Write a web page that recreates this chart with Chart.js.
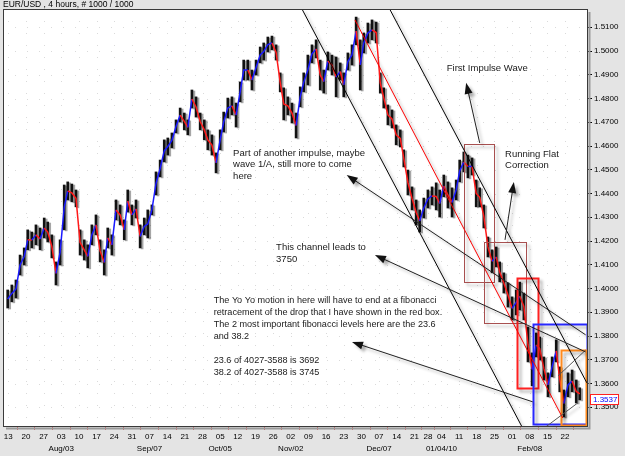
<!DOCTYPE html>
<html><head><meta charset="utf-8">
<script src="https://cdn.jsdelivr.net/npm/chart.js@4.4.1/dist/chart.umd.min.js"></script>
<style>html,body{margin:0;padding:0;background:#e4e4e4;overflow:hidden}#wrap{width:625px;height:456px;position:relative}</style>
</head><body><div id="wrap"><canvas id="c" width="625" height="456"></canvas></div>
<script>
// ---------------- DATA ----------------
const chartTitle = "EUR/USD , 4 hours, # 1000 / 1000";
const lastPrice = 1.3537;

// position of each sampled bar group (index of 4-hour bar, 0 = left edge)
const barIndex = [8,15,22,29,36,42,49,56,63,70,76,83,90,97,104,110,117,124,131,138,144,151,158,165,172,178,185,192,199,206,212,219,226,233,240,246,253,260,267,274,280,287,294,301,308,314,321,328,335,342,348,355,362,369,375,382,389,396,403,409,416,423,430,437,443,450,457,464,471,477,484,491,498,505,511,518,525,532,539,545,552,559,566,573,579,586,593,600,607,613,620,627,634,641,647,654,661,668,675,681,688,695,702,708,715,722,729,736,742,749,756,763,770,776,783,790,797,804,810,817,824,831,838,844,851,858,865,872,878,885,892,899,906,912,919,926,933,940,946,953,960,967,974,980];

const highs = [1.3994,1.4015,1.4036,1.4141,1.4171,1.4247,1.4238,1.4268,1.4255,1.4297,1.4280,1.4226,1.4112,1.4205,1.4436,1.4449,1.4440,1.4415,1.4247,1.4205,1.4184,1.4268,1.4310,1.4205,1.4163,1.4255,1.4226,1.4373,1.4352,1.4289,1.4415,1.4352,1.4373,1.4268,1.4297,1.4331,1.4352,1.4491,1.4541,1.4626,1.4634,1.4655,1.4710,1.4760,1.4739,1.4710,1.4836,1.4807,1.4739,1.4710,1.4668,1.4647,1.4571,1.4668,1.4743,1.4802,1.4807,1.4781,1.4870,1.4962,1.4962,1.4920,1.4962,1.5017,1.5034,1.5059,1.5063,1.5026,1.4908,1.4845,1.4807,1.4781,1.4739,1.4849,1.4908,1.4983,1.5026,1.5047,1.4962,1.4920,1.4996,1.4983,1.4975,1.4950,1.4908,1.4992,1.5026,1.5143,1.5047,1.5076,1.5118,1.5131,1.5122,1.4908,1.4845,1.4773,1.4752,1.4689,1.4668,1.4584,1.4499,1.4428,1.4373,1.4331,1.4381,1.4415,1.4428,1.4445,1.4415,1.4478,1.4449,1.4424,1.4457,1.4541,1.4575,1.4562,1.4550,1.4457,1.4424,1.4352,1.4217,1.4163,1.4175,1.4112,1.4066,1.4024,1.3965,1.3994,1.4027,1.3981,1.3838,1.3729,1.3813,1.3796,1.3712,1.3645,1.3712,1.3784,1.3670,1.3573,1.3645,1.3657,1.3615,1.3582];

const lows = [1.3918,1.3944,1.3960,1.4057,1.4099,1.4163,1.4171,1.4184,1.4163,1.4213,1.4196,1.4129,1.4015,1.4099,1.4247,1.4373,1.4365,1.4344,1.4141,1.4120,1.4087,1.4184,1.4226,1.4112,1.4057,1.4171,1.4141,1.4289,1.4268,1.4205,1.4322,1.4268,1.4297,1.4171,1.4226,1.4213,1.4310,1.4394,1.4470,1.4533,1.4562,1.4592,1.4655,1.4701,1.4668,1.4647,1.4760,1.4722,1.4668,1.4626,1.4584,1.4562,1.4487,1.4584,1.4659,1.4718,1.4731,1.4680,1.4786,1.4878,1.4878,1.4836,1.4899,1.4950,1.4962,1.4996,1.5005,1.4962,1.4828,1.4710,1.4731,1.4697,1.4634,1.4765,1.4828,1.4857,1.4950,1.4971,1.4836,1.4823,1.4920,1.4899,1.4807,1.4878,1.4807,1.4920,1.4941,1.5026,1.4836,1.4992,1.5034,1.5047,1.5034,1.4823,1.4760,1.4689,1.4676,1.4605,1.4596,1.4512,1.4394,1.4331,1.4268,1.4238,1.4297,1.4339,1.4352,1.4331,1.4301,1.4386,1.4339,1.4301,1.4373,1.4449,1.4491,1.4466,1.4478,1.4344,1.4344,1.4255,1.4133,1.4066,1.4091,1.4028,1.3981,1.3922,1.3868,1.3889,1.3910,1.3868,1.3691,1.3590,1.3712,1.3699,1.3615,1.3544,1.3628,1.3691,1.3565,1.3459,1.3544,1.3565,1.3518,1.3531];

const weekTickBars = [9,39,69,99,129,159,189,219,249,279,309,339,369,399,429,459,489,519,549,579,609,639,669,699,722,745,775,805,835,865,895,925,955];
const weekTickLabels = ['13','20','27','03','10','17','24','31','07','14','21','28','05','12','19','26','02','09','16','23','30','07','14','21','28','04','11','18','25','01','08','15','22'];
const monthTickBars = [99,249,369,489,639,745,895];
const monthLabels = ['Aug/03','Sep/07','Oct/05','Nov/02','Dec/07','01/04/10','Feb/08'];
const priceTicks = [1.35,1.36,1.37,1.38,1.39,1.40,1.41,1.42,1.43,1.44,1.45,1.46,1.47,1.48,1.49,1.50,1.51];

// ---------------- annotations (in bar / price units) ----------------
const trendLines = [
  {from:[657,1.5177], to:[992,1.3603], color:'#000'},
  {from:[508,1.5177], to:[882,1.3417], color:'#000'},
  {from:[598,1.5131], to:[951,1.3455], color:'#ff0000'},
  {from:[922,1.3417], to:[977,1.3519], color:'#555'},
  {from:[943,1.3632], to:[990,1.3741], color:'#555'}
];
const arrows = [
  {from:[810,1.4613], to:[787,1.4866]},
  {from:[853,1.4205], to:[868,1.4449]},
  {from:[990,1.3805], to:[584,1.4478]},
  {from:[990,1.3733], to:[632,1.4141]},
  {from:[900,1.3523], to:[593,1.3775]}
];
const boxes = [
  {x1:783, x2:834, p1:1.4609, p2:1.4028, color:'#a85050', w:1},
  {x1:817, x2:889, p1:1.4196, p2:1.3856, color:'#a85050', w:1},
  {x1:873, x2:909, p1:1.4045, p2:1.3582, color:'#ff2020', w:2},
  {x1:900, x2:992, p1:1.3851, p2:1.3430, color:'#2828ff', w:2},
  {x1:948, x2:990, p1:1.3741, p2:1.3426, color:'#ff8a1e', w:2}
];
const notes = [
  {at:[754,1.4925], size:9.5, lines:['First Impulse Wave']},
  {at:[853,1.4567], size:9.5, lines:['Running Flat','Correction']},
  {at:[391,1.4571], size:9.5, lines:['Part of another impulse, maybe','wave 1/A, still more to come','here']},
  {at:[464,1.4175], size:9.5, lines:['This channel leads to','3750']},
  {at:[358,1.3948], size:9.1, lines:['The Yo Yo motion in here will have to end at a fibonacci','retracement of the drop that I have shown in the red box.','The 2 most important fibonacci levels here are the 23.6','and 38.2','','23.6 of 4027-3588 is 3692','38.2 of 4027-3588 is 3745']}
];

// ---------------- drawing ----------------
const FONT = "'Liberation Sans', Arial, sans-serif";
const mids = highs.map((h,i)=>(h+lows[i])/2);

function P(chart, pt){ return [chart.scales.x.getPixelForValue(pt[0]), chart.scales.y.getPixelForValue(pt[1])]; }
function shadowOn(ctx){ ctx.shadowColor='rgba(0,0,0,0.30)'; ctx.shadowBlur=3; ctx.shadowOffsetX=3; ctx.shadowOffsetY=3; }

const deco = {
  id:'deco',
  beforeDraw(chart){
    const {ctx, chartArea:a} = chart;
    ctx.save();
    ctx.fillStyle='#e4e4e4'; ctx.fillRect(0,0,chart.width,chart.height);
    ctx.fillStyle='#ffffff'; ctx.fillRect(a.left,a.top,a.right-a.left,a.bottom-a.top);
    ctx.strokeStyle='#dadada'; ctx.lineWidth=1; ctx.setLineDash([1,11]);
    priceTicks.forEach(v=>{const y=Math.round(chart.scales.y.getPixelForValue(v))+0.5;ctx.beginPath();ctx.moveTo(a.left,y);ctx.lineTo(a.right,y);ctx.stroke();});
    weekTickBars.forEach(v=>{const x=Math.round(chart.scales.x.getPixelForValue(v))+0.5;ctx.beginPath();ctx.moveTo(x,a.top);ctx.lineTo(x,a.bottom);ctx.stroke();});
    ctx.setLineDash([]);
    ctx.fillStyle='#000'; ctx.font='8.5px '+FONT; ctx.textBaseline='middle'; ctx.textAlign='left';
    ctx.fillText(chartTitle, 3, 4.5);
    ctx.restore();
  },
  beforeDatasetDraw(chart,args){
    if(args.index===1){ const c=chart.ctx; c.save(); c.shadowColor='rgba(0,0,0,0.35)'; c.shadowOffsetX=2; c.shadowOffsetY=1; c.shadowBlur=0; }
  },
  afterDatasetDraw(chart,args){ if(args.index===1){ chart.ctx.restore(); } },
  afterDatasetsDraw(chart){
    const {ctx, chartArea:a} = chart;
    ctx.save();
    ctx.beginPath(); ctx.rect(a.left,a.top,a.right-a.left,a.bottom-a.top); ctx.clip();
    boxes.forEach(b=>{
      const [x1,y1]=P(chart,[b.x1,b.p1]); const [x2,y2]=P(chart,[b.x2,b.p2]);
      ctx.save(); shadowOn(ctx); ctx.strokeStyle=b.color; ctx.lineWidth=b.w;
      ctx.strokeRect(Math.round(x1)+0.5,Math.round(y1)+0.5,Math.round(x2-x1),Math.round(y2-y1)); ctx.restore();
    });
    trendLines.forEach(l=>{
      const [x1,y1]=P(chart,l.from); const [x2,y2]=P(chart,l.to);
      ctx.save(); shadowOn(ctx); ctx.strokeStyle=l.color; ctx.lineWidth=1;
      ctx.beginPath(); ctx.moveTo(x1,y1); ctx.lineTo(x2,y2); ctx.stroke(); ctx.restore();
    });
    arrows.forEach(ar=>{
      const [x1,y1]=P(chart,ar.from); const [x2,y2]=P(chart,ar.to);
      const ang=Math.atan2(y2-y1,x2-x1), L=11, W=4;
      ctx.save(); shadowOn(ctx); ctx.strokeStyle='#222'; ctx.fillStyle='#111'; ctx.lineWidth=1;
      ctx.beginPath(); ctx.moveTo(x1,y1); ctx.lineTo(x2-Math.cos(ang)*L*0.8,y2-Math.sin(ang)*L*0.8); ctx.stroke();
      ctx.beginPath(); ctx.moveTo(x2,y2);
      ctx.lineTo(x2-Math.cos(ang)*L-Math.sin(ang)*W, y2-Math.sin(ang)*L+Math.cos(ang)*W);
      ctx.lineTo(x2-Math.cos(ang)*L+Math.sin(ang)*W, y2-Math.sin(ang)*L-Math.cos(ang)*W);
      ctx.closePath(); ctx.fill(); ctx.restore();
    });
    ctx.fillStyle='#1a1a1a'; ctx.textBaseline='middle'; ctx.textAlign='left';
    notes.forEach(n=>{
      const [x,y]=P(chart,n.at);
      ctx.font=n.size+'px '+FONT;
      n.lines.forEach((t,i)=>{ ctx.fillText(t, x, y + i*11.9); });
    });
    ctx.restore();
    // frame
    ctx.save();
    ctx.strokeStyle='#9a9a9a'; ctx.lineWidth=2;
    ctx.beginPath(); ctx.moveTo(a.right+1.5,a.top+3); ctx.lineTo(a.right+1.5,a.bottom+1.5); ctx.lineTo(a.left+3,a.bottom+1.5); ctx.stroke();
    ctx.strokeStyle='#3a3a3a'; ctx.lineWidth=1;
    ctx.strokeRect(Math.round(a.left)+0.5,Math.round(a.top)+0.5,Math.round(a.right-a.left)-1,Math.round(a.bottom-a.top)-1);
    const yl=chart.scales.y.getPixelForValue(lastPrice);
    ctx.fillStyle='#fff'; ctx.fillRect(590,Math.round(yl)-5,29,10);
    ctx.strokeStyle='#ff2020'; ctx.strokeRect(590.5,Math.round(yl)-4.5,28,10);
    ctx.fillStyle='#0000ff'; ctx.font='8px '+FONT; ctx.textBaseline='middle'; ctx.textAlign='left';
    ctx.fillText(lastPrice.toFixed(4), 593, Math.round(yl)+0.5);
    ctx.restore();
  }
};

new Chart(document.getElementById('c'), {
  data:{
    datasets:[
      {type:'line', data: barIndex.map((b,i)=>({x:b,y:mids[i]})), borderWidth:1.5, pointRadius:0, tension:0,
       segment:{borderColor: c => c.p1.parsed.y >= c.p0.parsed.y ? '#1a1aff' : '#ff1a1a'}, order:0},
      {type:'bar', data: barIndex.map((b,i)=>({x:b,y:[lows[i],highs[i]]})), backgroundColor:'#111', borderWidth:0,
       barThickness:2, grouped:false, order:1}
    ]
  },
  options:{
    responsive:false, animation:false, events:[],
    layout:{padding:{left:3,top:9,right:0,bottom:0}},
    plugins:{legend:{display:false}, tooltip:{enabled:false}},
    scales:{
      x:{type:'linear', min:0, max:994, bounds:'data', offset:false,
        afterBuildTicks: s=>{ s.ticks = weekTickBars.map(v=>({value:v})); },
        afterFit: s=>{ s.height = 29; },
        grid:{drawOnChartArea:false, drawTicks:true, tickLength:3, tickColor:'#e05a5a'},
        border:{display:false},
        ticks:{autoSkip:false, maxRotation:0, minRotation:0, padding:1, color:'#000',
          font:{family:FONT, size:8, lineHeight:1.5},
          callback:(v)=>{ const i=weekTickBars.indexOf(v); const m=monthTickBars.indexOf(v);
            return m>=0 ? [weekTickLabels[i], monthLabels[m]] : weekTickLabels[i]; }}
      },
      y:{type:'linear', position:'right', min:1.3417, max:1.5177, bounds:'data',
        afterBuildTicks: s=>{ s.ticks = priceTicks.map(v=>({value:v})); },
        afterFit: s=>{ s.width = 37; },
        grid:{drawOnChartArea:false, drawTicks:true, tickLength:4, tickColor:'#000'},
        border:{display:false},
        ticks:{padding:2, color:'#000', font:{family:FONT, size:8}, callback:v=>Number(v).toFixed(4)}
      }
    }
  },
  plugins:[deco]
});
</script>
</body></html>
